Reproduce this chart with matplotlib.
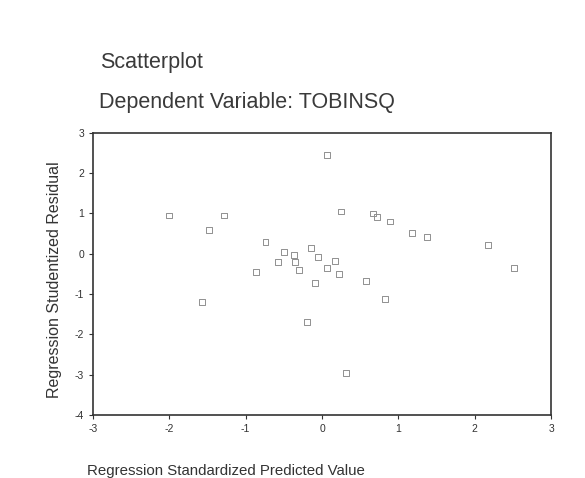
import matplotlib

matplotlib.use("Agg")
import matplotlib.pyplot as plt

# standardized predicted value vs studentized residual
pred = [-2.00, -1.48, -1.28, -0.74, -0.86, -0.58, -0.50, -0.37, -0.36, -0.30,
        -0.15, 0.07, 0.25, 0.67, 0.72, 0.89, 1.18, 1.37, 2.17, 2.52,
        -0.05, 0.07, 0.17, 0.22, -0.09, 0.57, 0.83, -0.20, 0.31, -1.57]
resid = [0.95, 0.60, 0.95, 0.30, -0.45, -0.20, 0.05, -0.02, -0.20, -0.40,
         0.15, 2.45, 1.05, 1.00, 0.92, 0.80, 0.52, 0.42, 0.22, -0.35,
         -0.08, -0.36, -0.17, -0.50, -0.72, -0.68, -1.12, -1.70, -2.95, -1.20]
xticks = [-3, -2, -1, 0, 1, 2, 3]
yticks = [-4, -3, -2, -1, 0, 1, 2, 3]

plt.rcParams["font.family"] = ["Liberation Sans", "DejaVu Sans"]
plt.rcParams["axes.unicode_minus"] = False  # SPSS prints a plain hyphen

fig = plt.figure(figsize=(5.85, 4.78), dpi=100)
ax = fig.add_axes([0.159, 0.132, 0.783, 0.59])

ax.scatter(pred, resid, marker="s", s=18, facecolors="none",
           edgecolors="#909090", linewidths=0.7)
ax.set_xlim(-3, 3)
ax.set_ylim(-4, 3)
ax.set_xticks(xticks)
ax.set_yticks(yticks)
ax.tick_params(labelsize=7.5, length=3, colors="#333333")
for s in ax.spines.values():
    s.set_color("#333333")
    s.set_linewidth(1.2)

ax.set_xlabel("Regression Standardized Predicted Value", fontsize=10.8,
              color="#333333", labelpad=22, x=0.29)
ax.set_ylabel("Regression Studentized Residual", fontsize=11.5, color="#333333",
              labelpad=9, y=0.48)

fig.text(0.171, 0.87, "Scatterplot", fontsize=15.5, color="#3a3a3a", va="center")
fig.text(0.169, 0.785, "Dependent Variable: TOBINSQ", fontsize=15.5,
         color="#3a3a3a", va="center")

fig.savefig("out.png", dpi=100)
